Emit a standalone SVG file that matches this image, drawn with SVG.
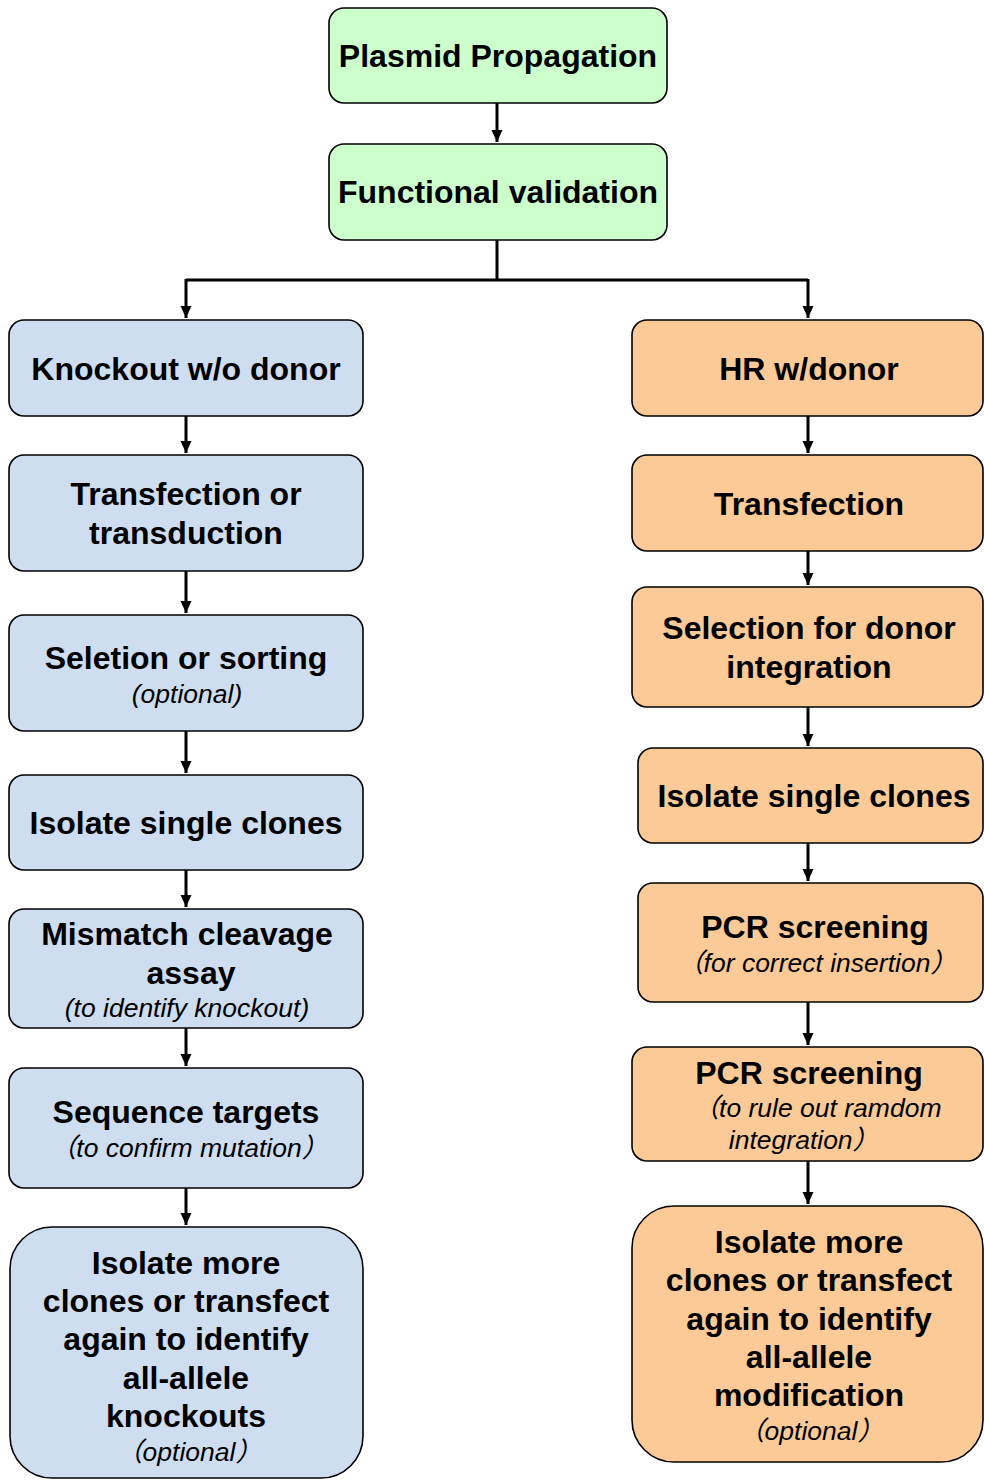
<svg xmlns="http://www.w3.org/2000/svg" width="984" height="1480" viewBox="0 0 984 1480">
<defs>
<style>
.g{fill:#CCFFCC;stroke:#000;stroke-width:1.6}
.b{fill:#CFDDF1;stroke:#000;stroke-width:1.6}
.o{fill:#FBCA96;stroke:#000;stroke-width:1.6}
text{font-family:"Liberation Sans","Noto Sans CJK SC",Arial,sans-serif;fill:#000;text-anchor:middle}
.t{font-size:32px;font-weight:bold}
.i{font-size:26.5px;font-style:italic}
.c line,.c path{stroke:#000;stroke-width:3;fill:none}
</style>
<marker id="arr" markerUnits="userSpaceOnUse" markerWidth="14" markerHeight="14" refX="12" refY="6.5" orient="auto" viewBox="0 0 14 14">
<path d="M0,1 L12,6.5 L0,12 Z" fill="#000"/>
</marker>
</defs>

<g class="c" id="connectors">
<line x1="497" y1="103" x2="497" y2="142" marker-end="url(#arr)"/>
<path d="M497,240 V280 M186,280 H808"/>
<line x1="186" y1="279" x2="186" y2="318" marker-end="url(#arr)"/>
<line x1="808" y1="279" x2="808" y2="318" marker-end="url(#arr)"/>
<line x1="186" y1="416" x2="186" y2="453" marker-end="url(#arr)"/>
<line x1="186" y1="571" x2="186" y2="613" marker-end="url(#arr)"/>
<line x1="186" y1="731" x2="186" y2="773" marker-end="url(#arr)"/>
<line x1="186" y1="870" x2="186" y2="907" marker-end="url(#arr)"/>
<line x1="186" y1="1028" x2="186" y2="1066" marker-end="url(#arr)"/>
<line x1="186" y1="1188" x2="186" y2="1225" marker-end="url(#arr)"/>
<line x1="808" y1="416" x2="808" y2="453" marker-end="url(#arr)"/>
<line x1="808" y1="551" x2="808" y2="585" marker-end="url(#arr)"/>
<line x1="808" y1="707" x2="808" y2="746" marker-end="url(#arr)"/>
<line x1="808" y1="843" x2="808" y2="881" marker-end="url(#arr)"/>
<line x1="808" y1="1002" x2="808" y2="1045" marker-end="url(#arr)"/>
<line x1="808" y1="1161" x2="808" y2="1204" marker-end="url(#arr)"/>
</g>

<g id="n-plasmid">
<rect class="g" x="329" y="8" width="338" height="95" rx="15"/>
<text class="t" x="498" y="67">Plasmid Propagation</text>
</g>
<g id="n-functional">
<rect class="g" x="329" y="144" width="338" height="96" rx="15"/>
<text class="t" x="498" y="203">Functional validation</text>
</g>

<g id="n-knockout">
<rect class="b" x="9" y="320" width="354" height="96" rx="15"/>
<text class="t" x="186" y="380">Knockout w/o donor</text>
</g>
<g id="n-transfection-l">
<rect class="b" x="9" y="455" width="354" height="116" rx="15"/>
<text class="t" x="186" y="505">Transfection or</text>
<text class="t" x="186" y="544">transduction</text>
</g>
<g id="n-selection-l">
<rect class="b" x="9" y="615" width="354" height="116" rx="15"/>
<text class="t" x="186" y="669">Seletion or sorting</text>
<text class="i" x="187" y="703">(optional)</text>
</g>
<g id="n-isolate-l">
<rect class="b" x="9" y="775" width="354" height="95" rx="15"/>
<text class="t" x="186" y="834">Isolate single clones</text>
</g>
<g id="n-mismatch">
<rect class="b" x="9" y="909" width="354" height="119" rx="15"/>
<text class="t" x="187" y="945">Mismatch cleavage</text>
<text class="t" x="191" y="984">assay</text>
<text class="i" x="187" y="1017">(to identify knockout)</text>
</g>
<g id="n-sequence">
<rect class="b" x="9" y="1068" width="354" height="120" rx="15"/>
<text class="t" x="186" y="1123">Sequence targets</text>
<text class="i" x="189" y="1157">（to confirm mutation）</text>
</g>
<g id="n-more-l">
<rect class="b" x="10" y="1227" width="353" height="251" rx="42"/>
<text class="t" x="186" y="1274">Isolate more</text>
<text class="t" x="186" y="1312">clones or transfect</text>
<text class="t" x="186" y="1350">again to identify</text>
<text class="t" x="186" y="1389">all-allele</text>
<text class="t" x="186" y="1427">knockouts</text>
<text class="i" x="189" y="1461">（optional）</text>
</g>

<g id="n-hr">
<rect class="o" x="632" y="320" width="351" height="96" rx="15"/>
<text class="t" x="809" y="380">HR w/donor</text>
</g>
<g id="n-transfection-r">
<rect class="o" x="632" y="455" width="351" height="96" rx="15"/>
<text class="t" x="809" y="515">Transfection</text>
</g>
<g id="n-selection-r">
<rect class="o" x="632" y="587" width="351" height="120" rx="15"/>
<text class="t" x="809" y="639">Selection for donor</text>
<text class="t" x="809" y="678">integration</text>
</g>
<g id="n-isolate-r">
<rect class="o" x="638" y="748" width="345" height="95" rx="15"/>
<text class="t" x="814" y="807">Isolate single clones</text>
</g>
<g id="n-pcr1">
<rect class="o" x="638" y="883" width="345" height="119" rx="15"/>
<text class="t" x="815" y="938">PCR screening</text>
<text class="i" x="817" y="972">（for correct insertion）</text>
</g>
<g id="n-pcr2">
<rect class="o" x="632" y="1047" width="351" height="114" rx="15"/>
<text class="t" x="809" y="1084">PCR screening</text>
<text class="i" x="817" y="1117">（to rule out ramdom</text>
<text class="i" x="804" y="1149">integration）</text>
</g>
<g id="n-more-r">
<rect class="o" x="632" y="1206" width="351" height="256" rx="42"/>
<text class="t" x="809" y="1253">Isolate more</text>
<text class="t" x="809" y="1291">clones or transfect</text>
<text class="t" x="809" y="1330">again to identify</text>
<text class="t" x="809" y="1368">all-allele</text>
<text class="t" x="809" y="1406">modification</text>
<text class="i" x="811" y="1440">（optional）</text>
</g>
</svg>
